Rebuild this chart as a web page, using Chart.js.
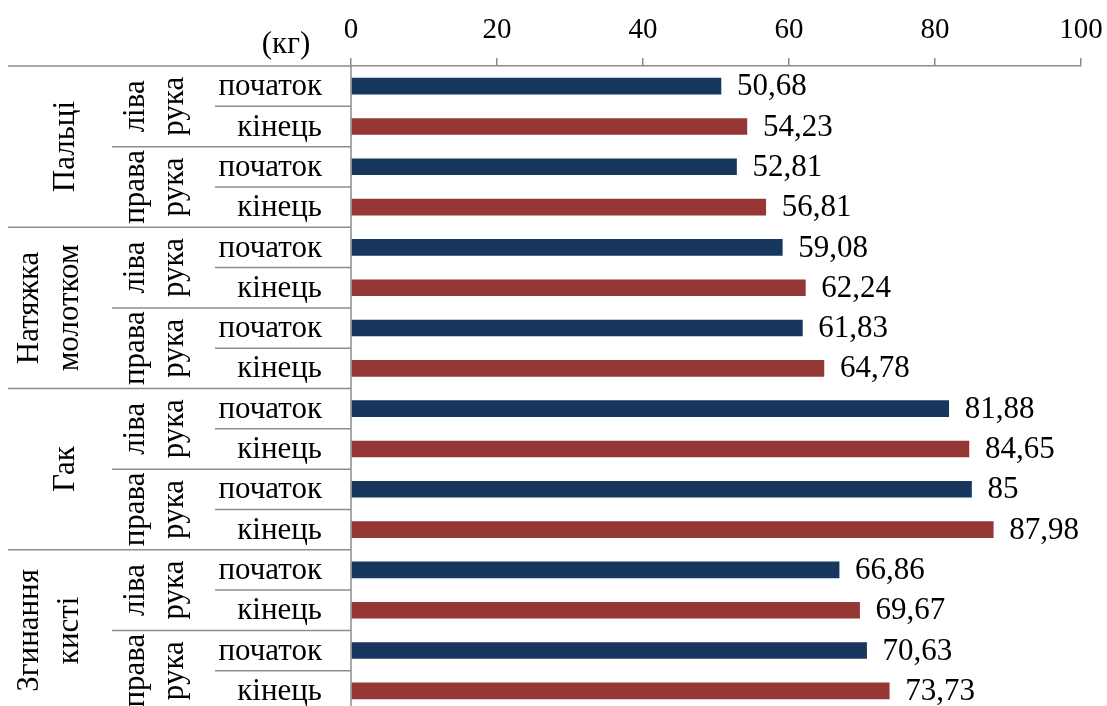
<!DOCTYPE html>
<html>
<head>
<meta charset="utf-8">
<script src="https://cdn.jsdelivr.net/npm/chart.js@4.4.0/dist/chart.umd.min.js"></script>
<style>
  html, body { margin: 0; padding: 0; overflow: hidden; background: #fff; }
  #wrap { width: 1107px; height: 712px; position: relative; }
</style>
</head>
<body>
<div id="wrap"><canvas id="c"></canvas></div>
<script>
// Exercise groups (each may wrap onto two lines), hands and measurement stages
const groups = [['Пальці'], ['Натяжка', 'молотком'], ['Гак'], ['Згинання', 'кисті']];
const hands = [['ліва', 'рука'], ['права', 'рука']];
const stages = ['початок', 'кінець'];

// Strength values, kg, in row order: group → hand → stage
const values = [
  50.68, 54.23, 52.81, 56.81,
  59.08, 62.24, 61.83, 64.78,
  81.88, 84.65, 85, 87.98,
  66.86, 69.67, 70.63, 73.73
];

const xTicks = [0, 20, 40, 60, 80, 100];
const unitLabel = '(кг)';

const stageColors = ['#17375E', '#953735'];
const FONT = 'Liberation Serif, Times New Roman, serif';
const FS = 31;       // category and value labels
const FS_TICK = 29;  // value-axis tick labels
const LINE = '#8c8c8c';

// Build row labels and per-row colours
const rows = [];
const rowColors = [];
groups.forEach((g) => {
  hands.forEach((h) => {
    stages.forEach((s, si) => {
      rows.push(g.join(' ') + ' / ' + h.join(' ') + ' / ' + s);
      rowColors.push(stageColors[si]);
    });
  });
});

const perGroup = hands.length * stages.length;

// Draws the three-level category axis on the left, separators and the unit caption
const categoryAxisPlugin = {
  id: 'categoryAxis',
  afterDraw(chart) {
    const ctx = chart.ctx;
    const y = chart.scales.y;
    const area = chart.chartArea;
    const axisX = area.left;
    const rowH = y.getPixelForValue(1) - y.getPixelForValue(0);
    const rowTop = (i) => y.getPixelForValue(i) - rowH / 2;

    ctx.save();
    ctx.strokeStyle = LINE;
    ctx.lineWidth = 1.5;

    // separators
    for (let i = 0; i <= rows.length; i++) {
      const yy = rowTop(i);
      let x0;
      if (i % perGroup === 0) x0 = 8;
      else if (i % stages.length === 0) x0 = 112;
      else x0 = 215;
      ctx.beginPath();
      ctx.moveTo(x0, yy);
      ctx.lineTo(axisX, yy);
      ctx.stroke();
    }
    // vertical axis line
    ctx.beginPath();
    ctx.moveTo(axisX, area.top);
    ctx.lineTo(axisX, area.bottom + 2);
    ctx.stroke();

    ctx.fillStyle = '#000';
    ctx.font = FS + 'px ' + FONT;

    // stage labels
    ctx.textAlign = 'right';
    ctx.textBaseline = 'middle';
    rows.forEach((r, i) => {
      ctx.fillText(stages[i % stages.length], 322, y.getPixelForValue(i) + 1);
    });

    // rotated multi-line label helper
    const drawRotated = (linesArr, xs, cy) => {
      linesArr.forEach((t, k) => {
        ctx.save();
        ctx.translate(xs[k], cy);
        ctx.rotate(-Math.PI / 2);
        ctx.textAlign = 'center';
        ctx.textBaseline = 'middle';
        ctx.fillText(t, 0, 0);
        ctx.restore();
      });
    };

    // hand labels
    for (let g = 0; g < groups.length; g++) {
      for (let h = 0; h < hands.length; h++) {
        const first = g * perGroup + h * stages.length;
        const cy = (rowTop(first) + rowTop(first + stages.length)) / 2;
        drawRotated(hands[h], [136, 175], cy);
      }
    }

    // group labels
    groups.forEach((g, gi) => {
      const cy = (rowTop(gi * perGroup) + rowTop((gi + 1) * perGroup)) / 2;
      const xs = g.length === 1 ? [66] : [30, 70];
      drawRotated(g, xs, cy);
    });

    // unit caption
    ctx.textAlign = 'center';
    ctx.textBaseline = 'middle';
    ctx.fillText(unitLabel, 286, 45);

    ctx.restore();
  }
};

// Value labels to the right of each bar
const valueLabelPlugin = {
  id: 'valueLabels',
  afterDatasetsDraw(chart) {
    const ctx = chart.ctx;
    const meta = chart.getDatasetMeta(0);
    ctx.save();
    ctx.fillStyle = '#000';
    ctx.font = FS + 'px ' + FONT;
    ctx.textAlign = 'left';
    ctx.textBaseline = 'middle';
    meta.data.forEach((bar, i) => {
      const txt = String(values[i]).replace('.', ',');
      ctx.fillText(txt, bar.x + 16, bar.y + 1);
    });
    ctx.restore();
  }
};

new Chart(document.getElementById('c'), {
  type: 'bar',
  data: {
    labels: rows,
    datasets: [{
      data: values,
      backgroundColor: rowColors,
      borderWidth: 0,
      barThickness: 16
    }]
  },
  options: {
    indexAxis: 'y',
    responsive: true,
    maintainAspectRatio: false,
    animation: false,
    devicePixelRatio: 1,
    layout: { padding: { left: 351, right: 26, top: 0, bottom: 1 } },
    plugins: {
      legend: { display: false },
      tooltip: { enabled: false }
    },
    scales: {
      x: {
        position: 'top',
        min: 0,
        max: 100,
        afterBuildTicks: (scale) => { scale.ticks = xTicks.map((v) => ({ value: v })); },
        afterFit: (scale) => {
          scale.height = 66;
          scale.paddingLeft = 0;
          scale.paddingRight = 0;
        },
        grid: {
          display: true,
          drawOnChartArea: false,
          drawTicks: true,
          tickLength: 8,
          color: LINE,
          lineWidth: 1.5
        },
        border: { display: true, color: LINE, width: 1.5 },
        ticks: {
          color: '#000',
          padding: 10,
          maxRotation: 0,
          font: { family: FONT, size: FS_TICK }
        }
      },
      y: {
        display: false
      }
    }
  },
  plugins: [categoryAxisPlugin, valueLabelPlugin]
});
</script>
</body>
</html>
